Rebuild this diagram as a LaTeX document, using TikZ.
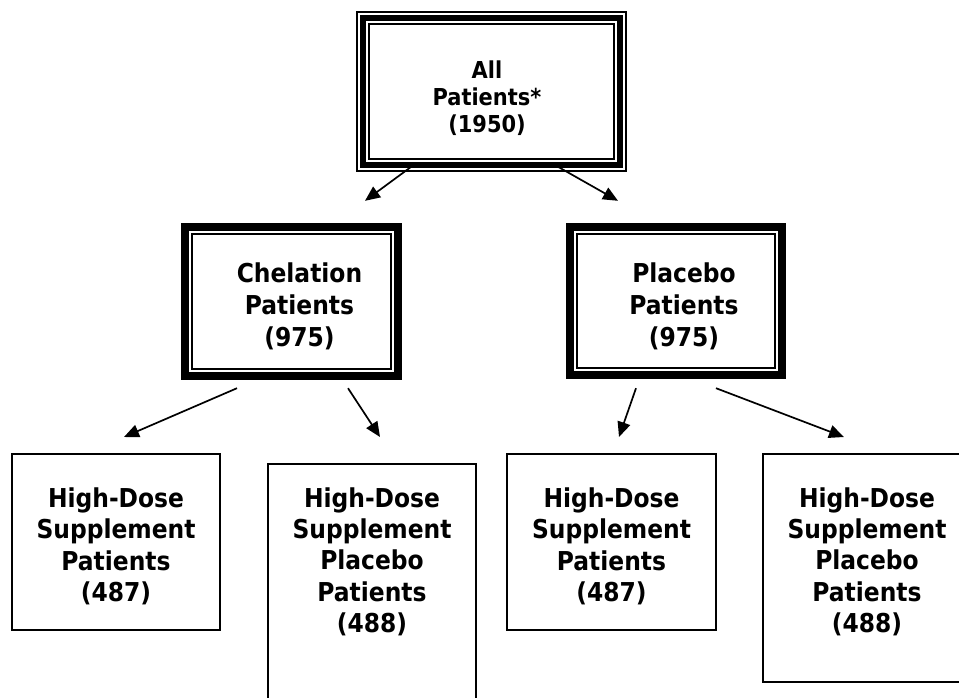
\documentclass[tikz,border=0pt]{standalone}
\usepackage{fontspec}
\setmainfont{DejaVu Sans Condensed}
\usetikzlibrary{arrows.meta}

\begin{document}
\begin{tikzpicture}[x=1pt,y=-1pt]
\tikzset{
  rootbox/.style={font=\bfseries\fontsize{23.3}{27}\selectfont, align=center, inner sep=0pt},
  groupbox/.style={font=\bfseries\fontsize{26}{32}\selectfont, align=center, inner sep=0pt},
  leafbox/.style={groupbox, font=\bfseries\fontsize{26}{31.3}\selectfont, draw, line width=1.6pt, minimum width=208pt, anchor=north},
  arr/.style={line width=1.7pt, -{Triangle[length=15pt,width=13pt]}},
}
\useasboundingbox (0,0) rectangle (959,698);
\clip (0,0) rectangle (959,698);

% top box
\node[rootbox, minimum width=271pt, text height=122pt, text depth=39pt] (all) at (487,91.5) {All\\Patients*\\(1950)};
\draw[line width=2pt] ([shift={(5.5pt,1pt)}]all.south west) rectangle ([shift={(3.5pt,-1pt)}]all.north east);
\draw[line width=6pt] ([shift={(11.5pt,7pt)}]all.south west) rectangle ([shift={(-2.5pt,-7pt)}]all.north east);
\draw[line width=2pt] ([shift={(17.5pt,13pt)}]all.south west) rectangle ([shift={(-8.5pt,-13pt)}]all.north east);

% second row
\node[groupbox, minimum width=221pt, text height=123.5pt, text depth=33.5pt] (chel) at (299.5,301.5) {Chelation\\Patients\\(975)};
\draw[line width=8pt] ([shift={(-4pt,4pt)}]chel.south west) rectangle ([shift={(-12pt,-4pt)}]chel.north east);
\draw[line width=2pt] ([shift={(3pt,11pt)}]chel.south west) rectangle ([shift={(-19pt,-11pt)}]chel.north east);

\node[groupbox, minimum width=220pt, text height=123.5pt, text depth=32.5pt] (plac) at (684,301) {Placebo\\Patients\\(975)};
\draw[line width=8pt] ([shift={(-4pt,4pt)}]plac.south west) rectangle ([shift={(-12pt,-4pt)}]plac.north east);
\draw[line width=2pt] ([shift={(3pt,11pt)}]plac.south west) rectangle ([shift={(-19pt,-11pt)}]plac.north east);

% third row
\node[leafbox, text height=147.5pt, text depth=28.5pt] (hd1) at (116,453) {High-Dose\\Supplement\\Patients\\(487)};
\node[leafbox, text height=168.7pt, text depth=250pt] (hd2) at (372,463) {High-Dose\\Supplement\\Placebo\\Patients\\(488)};
\node[leafbox, minimum width=209pt, text height=147.5pt, text depth=28.5pt] (hd3) at (611.5,453) {High-Dose\\Supplement\\Patients\\(487)};
\node[leafbox, text height=178.7pt, text depth=49.3pt] (hd4) at (867,453) {High-Dose\\Supplement\\Placebo\\Patients\\(488)};

\draw[arr] ([xshift=-75pt,yshift=6pt]all.south) -- ([xshift=65.5pt,yshift=22pt]chel.north);
\draw[arr] ([xshift=70pt,yshift=6pt]all.south) -- ([xshift=-66pt,yshift=22pt]plac.north);

\draw[arr] ([xshift=-62.5pt,yshift=-8pt]chel.south) -- ([xshift=8pt,yshift=16pt]hd1.north);
\draw[arr] ([xshift=48.5pt,yshift=-8pt]chel.south) -- ([xshift=8pt,yshift=26pt]hd2.north);
\draw[arr] ([xshift=-48pt,yshift=-9pt]plac.south) -- ([xshift=7.5pt,yshift=16pt]hd3.north);
\draw[arr] ([xshift=32pt,yshift=-9pt]plac.south) -- ([xshift=-23pt,yshift=16pt]hd4.north);
\end{tikzpicture}
\end{document}
